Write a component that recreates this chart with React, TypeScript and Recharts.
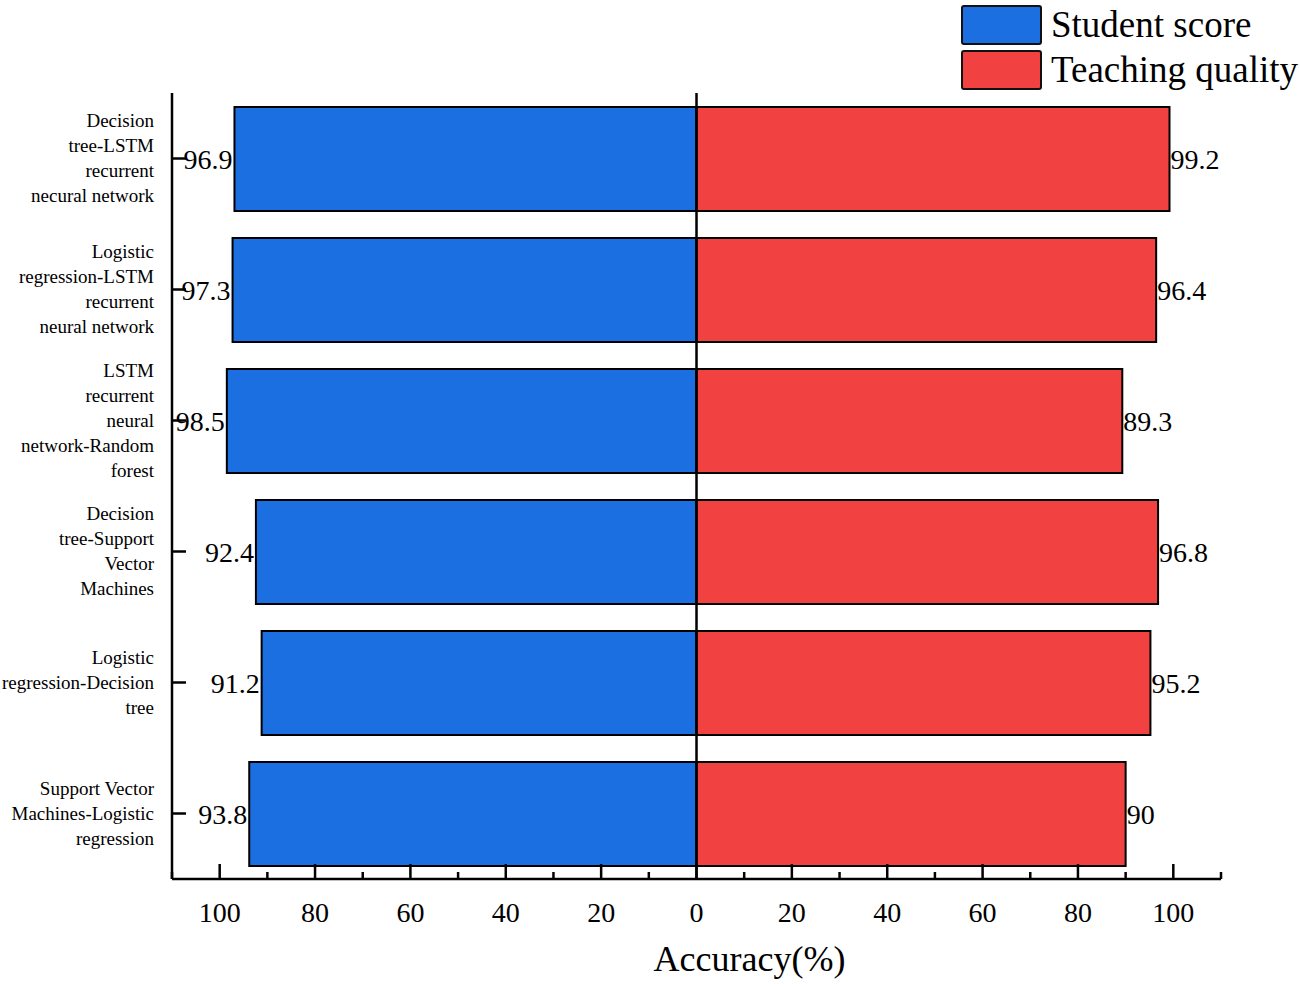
import { Bar, BarChart, LabelList, Legend, ReferenceLine, XAxis, YAxis } from "recharts";

const FONT = '"Liberation Serif", "Times New Roman", serif';

const categories = [
  "Decision\ntree-LSTM\nrecurrent\nnecural network",
  "Logistic\nregression-LSTM\nrecurrent\nneural network",
  "LSTM\nrecurrent\nneural\nnetwork-Random\nforest",
  "Decision\ntree-Support\nVector\nMachines",
  "Logistic\nregression-Decision\ntree",
  "Support Vector\nMachines-Logistic\nregression",
];
const studentScore = [96.9, 97.3, 98.5, 92.4, 91.2, 93.8];
const teachingQuality = [99.2, 96.4, 89.3, 96.8, 95.2, 90];
const xTicks = [-110, -100, -90, -80, -70, -60, -50, -40, -30, -20, -10, 0, 10, 20, 30, 40, 50, 60, 70, 80, 90, 100, 110];

const BLUE = "#1c6fe0";
const RED = "#f24141";

const data = categories.map((name, i) => ({
  name,
  student: -studentScore[i],
  teaching: teachingQuality[i],
}));

function XTick({ x, y, payload }: any) {
  const v = payload.value as number;
  const major = v % 20 === 0;
  return (
    <g>
      <line x1={x} x2={x} y1={y} y2={y - (major ? 15 : 7)} stroke="#000" strokeWidth={2.5} />
      {major && (
        <text x={x} y={y + 43} textAnchor="middle" fontFamily={FONT} fontSize={28} fill="#000">
          {Math.abs(v)}
        </text>
      )}
    </g>
  );
}

function YTick({ x, y, payload }: any) {
  const lines = String(payload.value).split("\n");
  const start = y - ((lines.length - 1) * 25) / 2 + 6;
  return (
    <g>
      <line x1={x} x2={x + 14} y1={y} y2={y} stroke="#000" strokeWidth={2.5} />
      <text textAnchor="end" fontFamily={FONT} fontSize={19} fill="#000">
        {lines.map((line, i) => (
          <tspan key={i} x={x - 18} y={start + i * 25}>
            {line}
          </tspan>
        ))}
      </text>
    </g>
  );
}

function valueLabel(side: "left" | "right") {
  return (props: any) => {
    const { x, y, width, height, value } = props;
    const raw = Array.isArray(value) ? value[1] - value[0] : value;
    const left = Math.min(x, x + width);
    const right = Math.max(x, x + width);
    return (
      <text
        x={side === "left" ? left - 2 : right + 1}
        y={y + height / 2 + 10}
        textAnchor={side === "left" ? "end" : "start"}
        fontFamily={FONT}
        fontSize={28}
        fill="#000"
      >
        {Math.abs(raw)}
      </text>
    );
  };
}

function LegendBox() {
  const items = [
    { label: "Student score", color: BLUE },
    { label: "Teaching quality", color: RED },
  ];
  return (
    <div style={{ fontFamily: FONT, fontSize: 37, color: "#000" }}>
      {items.map((item) => (
        <div key={item.label} style={{ display: "flex", alignItems: "center", height: 45 }}>
          <div
            style={{
              width: 77,
              height: 36,
              background: item.color,
              border: "2px solid #111",
              borderRadius: 3,
              marginRight: 9,
            }}
          />
          <span style={{ lineHeight: "45px" }}>{item.label}</span>
        </div>
      ))}
    </div>
  );
}

export default function App() {
  return (
    <div style={{ position: "absolute", left: 0, top: 0, width: 1300, height: 984, background: "#fff" }}>
      <BarChart
        width={1300}
        height={984}
        data={data}
        layout="vertical"
        stackOffset="sign"
        barSize={104}
        margin={{ top: 93, right: 79, bottom: 0, left: 0 }}
      >
        <XAxis
          type="number"
          domain={[-110, 110]}
          ticks={xTicks}
          interval={0}
          height={105}
          tickSize={0}
          tickMargin={0}
          tick={<XTick />}
          axisLine={{ stroke: "#000", strokeWidth: 2.5 }}
          tickLine={false}
          label={(props: any) => {
            const vb = props.viewBox;
            return (
              <text
                x={vb.x + vb.width / 2 + 53}
                y={vb.y + 92}
                textAnchor="middle"
                fontFamily={FONT}
                fontSize={36}
                fill="#000"
              >
                Accuracy(%)
              </text>
            );
          }}
        />
        <YAxis
          type="category"
          dataKey="name"
          width={172}
          interval={0}
          tickSize={0}
          tickMargin={0}
          tick={<YTick />}
          axisLine={{ stroke: "#000", strokeWidth: 2.5 }}
          tickLine={false}
        />
        <Legend
          layout="vertical"
          align="center"
          verticalAlign="middle"
          wrapperStyle={{ top: 2, left: 961, width: "auto" }}
          content={<LegendBox />}
        />
        <Bar dataKey="student" stackId="a" fill={BLUE} stroke="#000" strokeWidth={2} isAnimationActive={false}>
          <LabelList dataKey="student" content={valueLabel("left")} />
        </Bar>
        <Bar dataKey="teaching" stackId="a" fill={RED} stroke="#000" strokeWidth={2} isAnimationActive={false}>
          <LabelList dataKey="teaching" content={valueLabel("right")} />
        </Bar>
        <ReferenceLine x={0} stroke="#000" strokeWidth={2.5} />
      </BarChart>
    </div>
  );
}
